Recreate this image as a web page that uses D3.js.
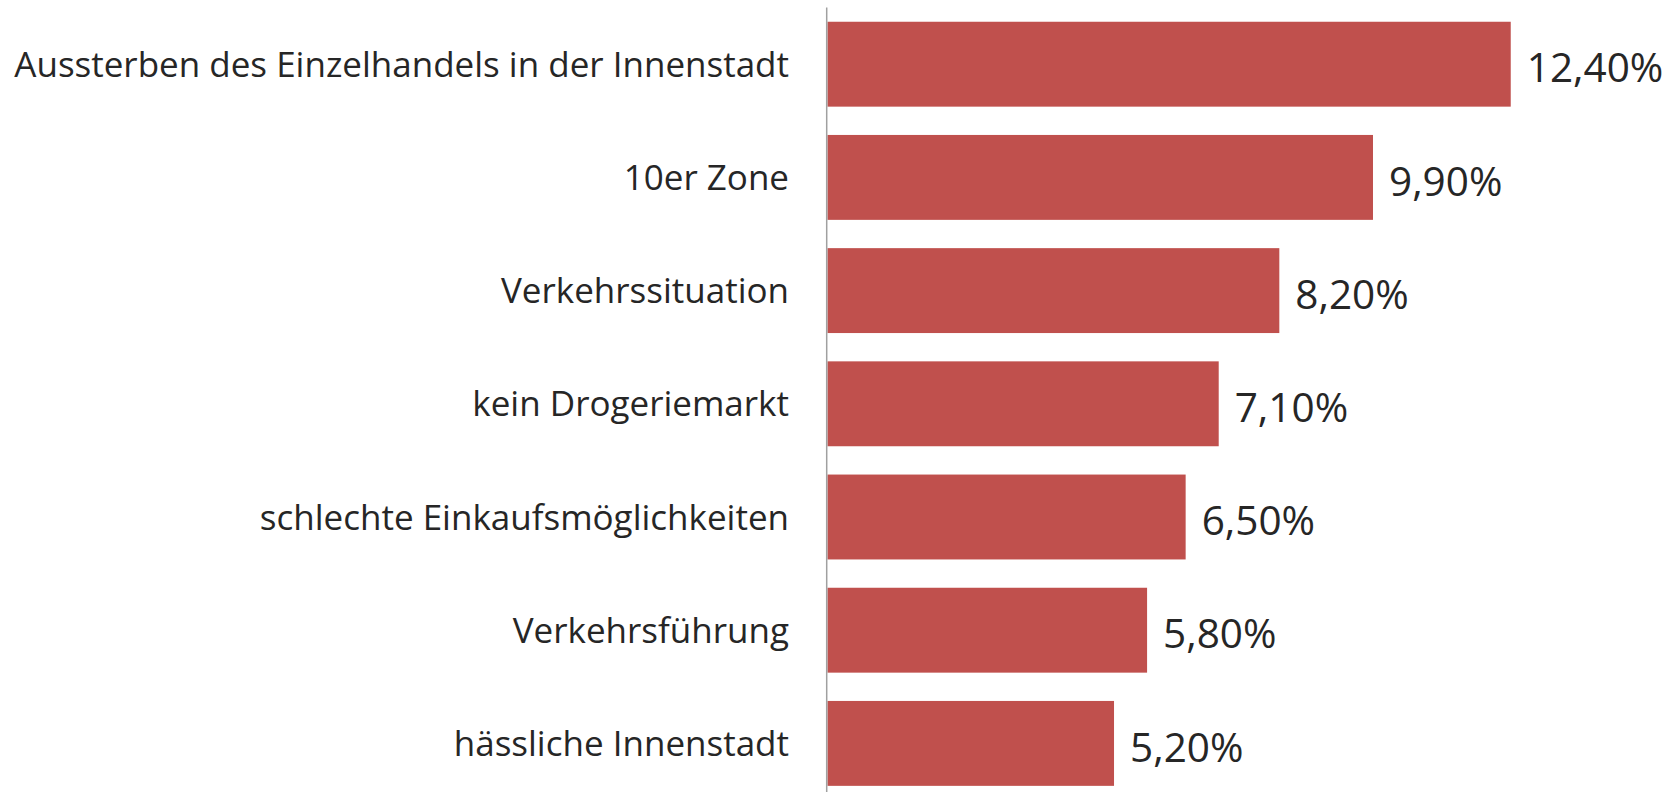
<!DOCTYPE html>
<html><head><meta charset="utf-8">
<script src="https://cdn.jsdelivr.net/npm/d3@7"></script>
<style>html,body{margin:0;padding:0;background:#fff;}</style>
</head><body>
<script>
const categories = ["Aussterben des Einzelhandels in der Innenstadt","10er Zone","Verkehrssituation","kein Drogeriemarkt","schlechte Einkaufsmöglichkeiten","Verkehrsführung","hässliche Innenstadt"];
const values = [12.4, 9.9, 8.2, 7.1, 6.5, 5.8, 5.2];
const valueLabels = ["12,40%","9,90%","8,20%","7,10%","6,50%","5,80%","5,20%"];

const W = 1674, H = 792;
const svg = d3.select("body").append("svg").attr("width", W).attr("height", H);
const x0 = 827.5;
const x = d3.scaleLinear().domain([0, 14]).range([x0, x0 + 14 * 55.1]);
const y = d3.scaleBand().domain(categories).range([7.6, 7.6 + 7 * 113.2]).paddingInner(0.25).paddingOuter(0.125);

svg.selectAll("rect.bar").data(values).enter().append("rect")
  .attr("class","bar")
  .attr("x", x(0)).attr("y", (d,i)=>y(categories[i]))
  .attr("width", d=>x(d)-x(0)).attr("height", y.bandwidth())
  .attr("fill", "#C0504D");

svg.append("line").attr("x1", 826.7).attr("x2", 826.7).attr("y1", 7.6).attr("y2", H)
  .attr("stroke", "#A0A0A0").attr("stroke-width", 1.5);

const font = "'Open Sans', sans-serif";
svg.selectAll("text.cat").data(categories).enter().append("text")
  .attr("class","cat")
  .attr("x", 789).attr("y", d=>y(d)+y.bandwidth()/2)
  .attr("dy","0.36em").attr("text-anchor","end")
  .attr("font-family", font).attr("font-size", 35).attr("fill","#262626")
  .text(d=>d);

svg.selectAll("text.val").data(values).enter().append("text")
  .attr("class","val")
  .attr("x", d=>x(d)+16).attr("y", (d,i)=>y(categories[i])+y.bandwidth()/2)
  .attr("dy","0.45em")
  .attr("font-family", font).attr("font-size", 40.5).attr("fill","#262626")
  .text((d,i)=>valueLabels[i]);
</script>
</body></html>
